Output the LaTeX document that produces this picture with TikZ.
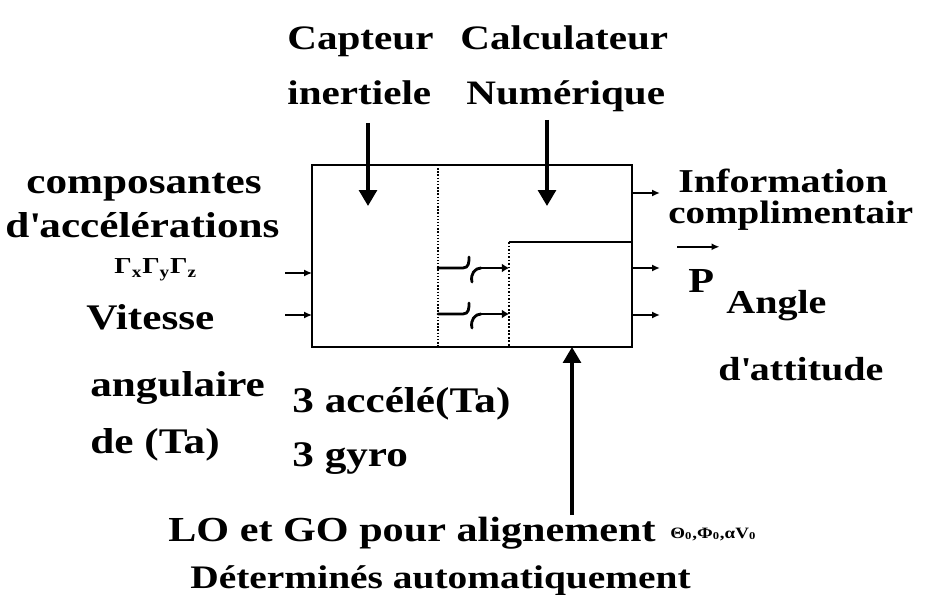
\documentclass[tikz,border=0pt]{standalone}
\usepackage{fontspec}
\setmainfont{Liberation Serif}[FakeStretch=1.2]
\usetikzlibrary{arrows.meta, positioning}

\tikzset{
  lbl/.style={font=\bfseries\fontsize{19}{20}\selectfont, inner sep=0pt, anchor=base west},
  toplbl/.style={lbl, font=\bfseries\fontsize{19.5}{20}\selectfont},
  biglbl/.style={lbl, font=\bfseries\fontsize{20.5}{22}\selectfont},
  botlbl/.style={lbl, font=\bfseries\fontsize{18.7}{20}\selectfont},
  frame/.style={draw, line width=1.6pt, inner sep=0pt, outer sep=0pt},
  fatarrow/.style={-{Triangle[length=9pt,width=10pt]}, line width=2pt},
  thinarrow/.style={-{Latex[length=4.5pt,width=4pt]}, line width=0.9pt},
  switchline/.style={line width=1.6pt, line cap=round}
}
\newcommand{\apos}{\textquotesingle}

\begin{document}
\begin{tikzpicture}[x=0.02cm, y=-0.02cm]
  \useasboundingbox (0,0) rectangle (934,608);

  % --- Block ---
  \node[frame, minimum width=6.4cm, minimum height=3.64cm] (sys) at (472,256) {};
  \coordinate (sep) at (438,165);
  \coordinate (cin) at (509,242);
  \draw[densely dotted, line width=0.8pt] (sep) -- (sep |- sys.south);
  \draw[densely dotted, line width=1pt] (cin) -- (cin |- sys.south);
  \draw[line width=1.6pt] (cin) -- (cin -| sys.east);

  % --- switches between the two parts ---
  \foreach \yy/\nm in {268/sa, 314/sb}{
    \coordinate (\nm0) at (438,\yy);
    \coordinate (\nm1) at (509,\yy);
    \coordinate (\nm2) at (481,\yy);
    \draw[switchline] (\nm0) -- ++(25,0) .. controls +(6,0) and +(0,5) .. ++(6,-11);
    \draw[switchline] (472,\yy+14) .. controls +(-2,-8) and +(-6,0) .. (\nm2);
    \draw[switchline, -{Latex[length=4pt,width=5pt]}] (\nm2) -- (\nm1);
  }

  % --- top labels ---
  \node[toplbl] (capA) at (287,50) {Capteur};
  \node[toplbl] (capB) at (287,105) {inertiele};
  \node[toplbl] (calA) at (460,50) {Calculateur};
  \node[toplbl] (calB) at (466,105) {Numérique};
  \coordinate (capT) at (368,123);
  \coordinate (calT) at (547,120);
  \draw[fatarrow] (capT) -- (368,206);
  \draw[fatarrow] (calT) -- (547,206);

  % --- left labels ---
  \node[biglbl] (acc1) at (26,194) {composantes};
  \node[biglbl] (acc2) at (5,237) {d\apos accélérations};
  \node[lbl, font=\bfseries\fontsize{13}{14}\selectfont] (gam) at (114,274) {Γ\textsubscript{x}Γ\textsubscript{y}Γ\textsubscript{z}};
  \node[biglbl] (vit1) at (86,329) {Vitesse};
  \node[biglbl] (vit2) at (90,396) {angulaire};
  \node[biglbl] (vit3) at (90,453) {de (Ta)};
  \coordinate (inA) at (285,273);
  \coordinate (inB) at (285,315);
  \draw[thinarrow] (inA) -- (inA -| sys.west);
  \draw[thinarrow] (inB) -- (inB -| sys.west);

  % --- sensors ---
  \node[biglbl] (nbA) at (292,412) {3 accélé(Ta)};
  \node[biglbl] (nbG) at (292,466) {3 gyro};

  % --- right labels ---
  \node[lbl] (info1) at (678,193) {Information};
  \node[lbl, font=\bfseries\fontsize{18.5}{20}\selectfont] (info2) at (668,224) {complimentair};
  \node[lbl, font=\bfseries\fontsize{20}{20}\selectfont] (vecP) at (688,293) {P};
  \node[lbl] (ang1) at (726,314) {Angle};
  \node[lbl] (ang2) at (718,380) {d\apos attitude};
  \draw[thinarrow] ([xshift=-6pt,yshift=13pt]vecP.north west) -- ++(42,0);
  \foreach \yy/\nm in {193/oa, 268/ob, 315/oc}{
    \path (0,\yy) coordinate (\nm h);
    \coordinate (\nm) at (sys.east |- \nm h);
    \draw[thinarrow] (\nm) -- ++(28,0);
  }

  % --- bottom ---
  \coordinate (alB) at (572,515);
  \draw[fatarrow] (alB) -- (alB |- sys.south);
  \node[lbl, font=\bfseries\fontsize{20}{22}\selectfont] (al1) at (168,541) {LO et GO pour alignement};
  \node[lbl, font=\bfseries\fontsize{9}{10}\selectfont] (al2) at (670,538) {Θ\textsubscript{0},Φ\textsubscript{0},αV\textsubscript{0}};
  \node[botlbl] (al3) at (190,588) {Déterminés automatiquement};
\end{tikzpicture}
\end{document}
